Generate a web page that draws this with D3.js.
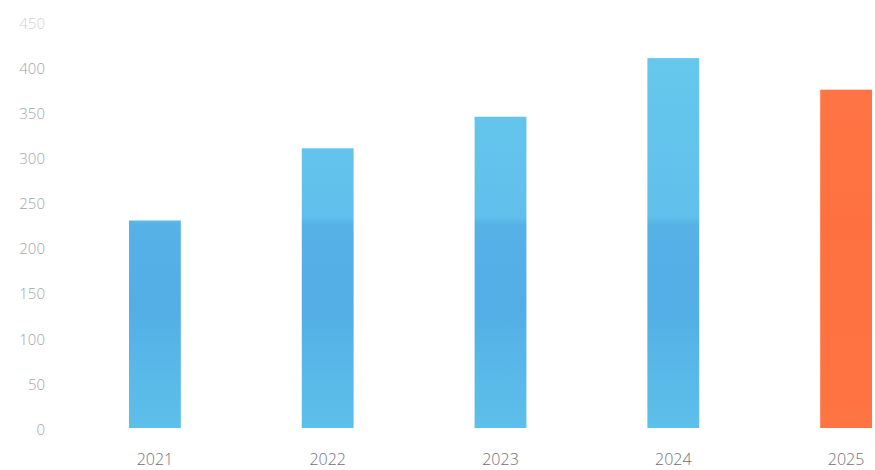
<!DOCTYPE html>
<html>
<head>
<meta charset="utf-8">
<script src="https://cdn.jsdelivr.net/npm/d3@7"></script>
<style>
  html, body { margin: 0; padding: 0; background: #fff; }
  svg { display: block; }
</style>
</head>
<body>
<svg id="chart" width="875" height="470"></svg>
<script>
const categories = ["2021", "2022", "2023", "2024", "2025"];
const values = [230, 310, 345, 410, 375];
const highlight = ["2025"];
const yTicks = [0, 50, 100, 150, 200, 250, 300, 350, 400, 450];

const W = 875, H = 470;
const svg = d3.select("#chart");

const y = d3.scaleLinear().domain([0, 450]).range([428, 22]);
const x = d3.scaleBand().domain(categories)
  .range([68.5, 932.5]).paddingInner(0.7).paddingOuter(0.35);

const defs = svg.append("defs");
const g = defs.append("linearGradient").attr("id", "blueGrad")
  .attr("gradientUnits", "userSpaceOnUse")
  .attr("x1", 0).attr("x2", 0).attr("y1", y(450)).attr("y2", y(0));
const stops = [
  [0.00, "#68c9ed"],
  [0.48, "#60c0eb"],
  [0.50, "#55b1e6"],
  [0.70, "#52aee5"],
  [0.84, "#58b7e8"],
  [1.00, "#5dbfea"]
];
stops.forEach(s => g.append("stop").attr("offset", s[0]).attr("stop-color", s[1]));

const og = defs.append("linearGradient").attr("id", "orangeGrad")
  .attr("gradientUnits", "userSpaceOnUse")
  .attr("x1", 0).attr("x2", 0).attr("y1", y(450)).attr("y2", y(0));
[[0, "#ff7746"], [0.5, "#fe7040"], [1, "#fe7442"]]
  .forEach(s => og.append("stop").attr("offset", s[0]).attr("stop-color", s[1]));

// Y axis labels
const yAxis = d3.axisLeft(y).tickValues(yTicks).tickSize(0).tickPadding(0);
const ya = svg.append("g").attr("transform", "translate(45,1.5)").call(yAxis);
ya.select(".domain").remove();
ya.selectAll("text")
  .attr("font-family", "'Open Sans', sans-serif")
  .attr("font-weight", 300)
  .attr("font-size", 15)
  .attr("fill", d => d === 450 ? "#cfcfd4" : "#a3a3aa");

// Bars
svg.append("g").selectAll("rect").data(categories).join("rect")
  .attr("x", d => x(d))
  .attr("y", (d, i) => y(values[i]))
  .attr("width", x.bandwidth())
  .attr("height", (d, i) => y(0) - y(values[i]))
  .attr("fill", d => highlight.includes(d) ? "url(#orangeGrad)" : "url(#blueGrad)");

// X axis labels
const xAxis = d3.axisBottom(x).tickSize(0).tickPadding(0);
const xa = svg.append("g").attr("transform", "translate(0,454)").call(xAxis);
xa.select(".domain").remove();
xa.selectAll("text")
  .attr("font-family", "'Open Sans', sans-serif")
  .attr("font-weight", 300)
  .attr("font-size", 16)
  .attr("fill", "#707078");
</script>
</body>
</html>
